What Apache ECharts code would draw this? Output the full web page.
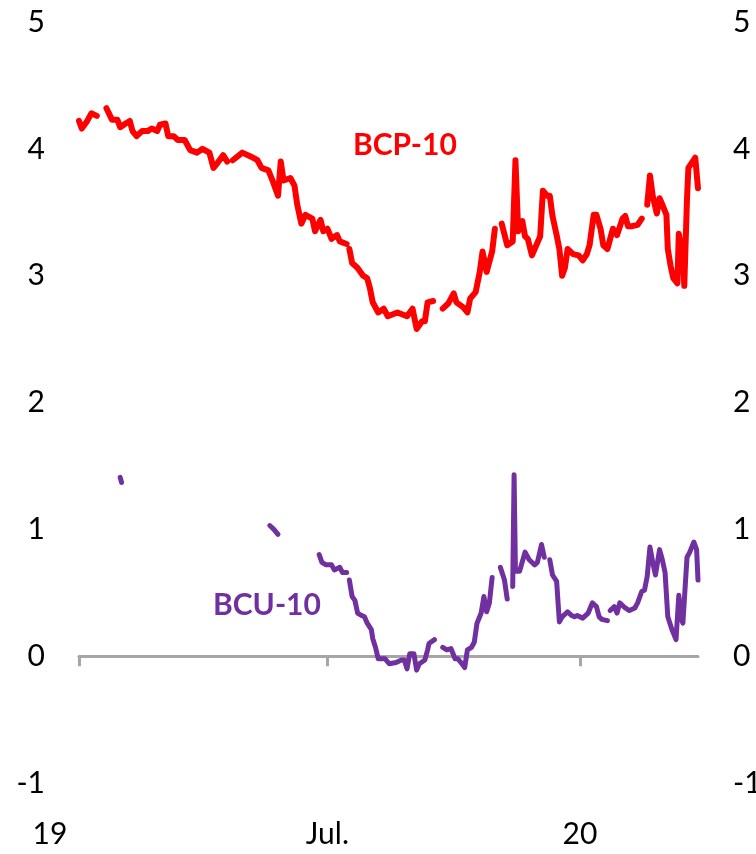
<!DOCTYPE html>
<html>
<head>
<meta charset="utf-8">
<script src="https://cdn.jsdelivr.net/npm/echarts@6/dist/echarts.min.js"></script>
<style>
html,body{margin:0;padding:0;background:#fff;}
#chart{width:756px;height:854px;}
</style>
</head>
<body>
<div id="chart"></div>
<script>
// ---- Data ----
const xMin = '2019-01-01';
const xMax = '2020-03-27';
const tickDates = ['2019-01-01', '2019-07-01', '2020-01-01'];
const tickLabels = ['19', 'Jul.', '20'];
const yTicks = [-1, 0, 1, 2, 3, 4, 5];

const bcpDates = [
 '2019-01-01','2019-01-03','2019-01-07','2019-01-10','2019-01-14','2019-01-17','2019-01-21','2019-01-25','2019-01-29','2019-01-31',
 '2019-02-04','2019-02-07','2019-02-09','2019-02-12','2019-02-16','2019-02-20','2019-02-23','2019-02-27',
 '2019-03-01','2019-03-05','2019-03-07','2019-03-11','2019-03-14','2019-03-19','2019-03-23','2019-03-28',
 '2019-04-01','2019-04-06','2019-04-09','2019-04-12','2019-04-16','2019-04-19','2019-04-21','2019-04-23','2019-04-30',
 '2019-05-06','2019-05-11','2019-05-14','2019-05-19','2019-05-22','2019-05-26','2019-05-28','2019-05-30',
 '2019-06-04','2019-06-07','2019-06-09','2019-06-12','2019-06-15','2019-06-20','2019-06-22','2019-06-26','2019-06-28',
 '2019-07-01','2019-07-04','2019-07-08','2019-07-10','2019-07-15','2019-07-16','2019-07-17','2019-07-19','2019-07-23','2019-07-27','2019-07-30',
 '2019-08-01','2019-08-03','2019-08-07','2019-08-11','2019-08-14','2019-08-21','2019-08-28',
 '2019-09-01','2019-09-04','2019-09-08','2019-09-10','2019-09-12','2019-09-16','2019-09-20','2019-09-23','2019-09-27',
 '2019-10-01','2019-10-03','2019-10-08','2019-10-11','2019-10-13','2019-10-17','2019-10-20','2019-10-22','2019-10-25','2019-10-29','2019-10-31',
 '2019-11-03','2019-11-05','2019-11-09','2019-11-13','2019-11-15','2019-11-17','2019-11-20','2019-11-22','2019-11-24','2019-11-27','2019-11-29',
 '2019-12-03','2019-12-05','2019-12-08','2019-12-10','2019-12-12','2019-12-15','2019-12-17','2019-12-19','2019-12-21','2019-12-23','2019-12-27','2019-12-31',
 '2020-01-03','2020-01-06','2020-01-08','2020-01-11','2020-01-13','2020-01-16','2020-01-18','2020-01-21','2020-01-23','2020-01-25','2020-01-28',
 '2020-02-01','2020-02-03','2020-02-05','2020-02-08','2020-02-12','2020-02-15','2020-02-17','2020-02-19','2020-02-21','2020-02-23','2020-02-26','2020-02-28',
 '2020-03-01','2020-03-04','2020-03-05','2020-03-07','2020-03-09','2020-03-12','2020-03-13','2020-03-16','2020-03-17','2020-03-19','2020-03-20','2020-03-25','2020-03-27'
];
const bcpValues = [
 4.22,4.16,4.22,4.28,4.26,null,4.32,4.23,4.23,4.17,
 4.20,4.22,4.14,4.10,4.14,4.14,4.16,4.14,
 4.19,4.20,4.10,4.10,4.07,4.07,3.99,3.97,
 4.00,3.97,3.85,3.89,3.95,3.90,null,3.91,3.97,
 3.94,3.91,3.85,3.83,3.75,3.63,3.90,3.75,
 3.77,3.71,3.56,3.41,3.48,3.45,3.35,3.44,3.35,
 3.37,3.29,3.32,3.27,3.25,null,3.21,3.10,3.06,3.00,2.98,
 2.90,2.79,2.71,2.74,2.68,2.71,2.68,
 2.74,2.58,2.64,2.64,2.79,2.80,null,2.74,2.78,
 2.86,2.79,2.75,2.71,2.82,2.87,3.03,3.19,3.03,3.19,3.37,
 null,3.41,3.24,3.27,3.91,3.35,3.43,3.31,3.29,3.16,3.21,
 3.31,3.67,3.63,3.63,3.47,3.32,3.21,3.00,3.06,3.21,3.17,3.16,
 3.12,3.17,3.24,3.48,3.48,3.37,3.24,3.21,3.29,3.37,3.32,
 3.45,3.47,3.39,3.39,3.40,3.45,null,3.56,3.79,3.63,3.49,3.61,
 3.56,3.48,3.21,3.08,2.98,2.94,3.33,3.16,2.92,3.61,3.85,3.93,3.69
];

const bcuDates = [
 '2019-01-31','2019-02-01','2019-02-02',
 '2019-05-20','2019-05-23','2019-05-26','2019-05-27',
 '2019-06-25','2019-06-27','2019-06-30',
 '2019-07-04','2019-07-06','2019-07-10','2019-07-12','2019-07-15','2019-07-16','2019-07-17','2019-07-19','2019-07-21','2019-07-23','2019-07-26','2019-07-28','2019-07-30',
 '2019-08-02','2019-08-03','2019-08-05','2019-08-07','2019-08-12','2019-08-15','2019-08-20','2019-08-24','2019-08-26','2019-08-28','2019-08-30',
 '2019-09-02','2019-09-04','2019-09-06','2019-09-10','2019-09-12','2019-09-13','2019-09-17','2019-09-20','2019-09-23','2019-09-26','2019-09-29',
 '2019-10-02','2019-10-04','2019-10-07','2019-10-09','2019-10-11','2019-10-14','2019-10-16','2019-10-18','2019-10-21','2019-10-23','2019-10-25','2019-10-27','2019-10-29','2019-10-31',
 '2019-11-04','2019-11-07','2019-11-09','2019-11-11','2019-11-13','2019-11-14','2019-11-15','2019-11-18','2019-11-22','2019-11-25','2019-11-29',
 '2019-12-01','2019-12-04','2019-12-06','2019-12-07','2019-12-10','2019-12-12','2019-12-15','2019-12-17','2019-12-19','2019-12-23','2019-12-26','2019-12-28','2019-12-30',
 '2020-01-03','2020-01-07','2020-01-10','2020-01-13','2020-01-15','2020-01-17','2020-01-21','2020-01-22','2020-01-23','2020-01-26','2020-01-28','2020-01-30',
 '2020-02-03','2020-02-06','2020-02-10','2020-02-12','2020-02-15','2020-02-17','2020-02-19','2020-02-21','2020-02-23','2020-02-25','2020-02-28',
 '2020-03-01','2020-03-03','2020-03-05','2020-03-08','2020-03-11','2020-03-13','2020-03-15','2020-03-16','2020-03-19','2020-03-21','2020-03-24','2020-03-26','2020-03-27'
];
const bcuValues = [
 1.41,1.37,null,
 1.03,1.00,0.96,null,
 0.80,0.74,0.72,
 0.72,0.68,0.70,0.66,0.66,null,0.60,0.47,0.44,0.34,0.32,0.31,0.26,
 0.21,0.14,0.07,-0.02,-0.02,-0.06,-0.05,-0.03,-0.03,-0.10,0.02,
 0.02,-0.11,-0.06,-0.03,0.05,0.10,0.13,null,0.07,0.05,0.06,
 -0.02,-0.02,-0.06,-0.09,0.05,0.07,0.11,0.26,0.34,0.47,0.35,0.42,0.62,null,
 0.70,0.60,0.45,null,0.55,1.43,0.67,0.67,0.82,0.76,0.72,
 0.74,0.88,0.78,null,0.76,0.64,0.59,0.27,0.31,0.35,0.32,0.31,0.32,
 0.30,0.34,0.42,0.39,0.31,0.29,0.28,null,0.36,0.39,0.34,0.42,
 0.38,0.36,0.38,0.42,0.51,0.52,0.63,0.86,0.74,0.64,0.84,
 0.76,0.66,0.31,0.21,0.13,0.48,0.29,0.26,0.78,0.82,0.90,0.84,0.60
];

const seriesNames = ['BCP-10', 'BCU-10'];
const seriesColors = ['#FF0000', '#7030A0'];

// ---- Build chart ----
function ts(s) { const p = s.split('-').map(Number); return new Date(p[0], p[1] - 1, p[2]).getTime(); }
const tickTs = tickDates.map(ts);
const bcpData = bcpDates.map((d, i) => [ts(d), bcpValues[i]]);
const bcuData = bcuDates.map((d, i) => [ts(d), bcuValues[i]]);

const FONT = 'Lato';
const chart = echarts.init(document.getElementById('chart'), null, { renderer: 'canvas' });

const yAxisCommon = {
  type: 'value', min: yTicks[0], max: yTicks[yTicks.length - 1], interval: 1,
  axisLine: { show: false }, axisTick: { show: false }, splitLine: { show: false }
};

chart.setOption({
  animation: false,
  backgroundColor: '#fff',
  grid: { left: 79, right: 58, top: 22, bottom: 71, containLabel: false, outerBoundsMode: 'none' },
  xAxis: [
    {
      type: 'value', min: ts(xMin), max: ts(xMax), position: 'bottom',
      axisLine: { show: false, onZero: false },
      axisTick: { show: false },
      splitLine: { show: false },
      axisLabel: {
        customValues: tickTs,
        showMinLabel: true, showMaxLabel: true,
        margin: 36,
        color: '#000', fontSize: 30, fontFamily: FONT,
        formatter: function (v) {
          const i = tickTs.indexOf(v);
          if (i < 0) return '';
          return i === 0 ? '{a|' + tickLabels[i] + '}' : tickLabels[i];
        },
        rich: { a: { padding: [0, 58, 0, 0], color: '#000', fontSize: 30, fontFamily: FONT } }
      }
    },
    {
      type: 'value', min: ts(xMin), max: ts(xMax), position: 'bottom',
      axisLine: { show: true, onZero: true, onZeroAxisIndex: 0, lineStyle: { color: '#A6A6A6', width: 3 } },
      axisTick: { show: true, customValues: tickTs, length: 10, lineStyle: { color: '#A6A6A6', width: 3 } },
      splitLine: { show: false },
      axisLabel: { show: false }
    }
  ],
  yAxis: [
    Object.assign({}, yAxisCommon, { position: 'left',
      axisLabel: { margin: 34, color: '#000', fontSize: 30, fontFamily: FONT } }),
    Object.assign({}, yAxisCommon, { position: 'right',
      axisLabel: { margin: 35, color: '#000', fontSize: 30, fontFamily: FONT } })
  ],
  series: [
    {
      name: seriesNames[0], type: 'line', xAxisIndex: 0, yAxisIndex: 0,
      data: bcpData, showSymbol: false, connectNulls: false,
      lineStyle: { color: seriesColors[0], width: 6, cap: 'round', join: 'round' },
      emphasis: { disabled: true }
    },
    {
      name: seriesNames[1], type: 'line', xAxisIndex: 0, yAxisIndex: 0,
      data: bcuData, showSymbol: false, connectNulls: false,
      lineStyle: { color: seriesColors[1], width: 5, cap: 'round', join: 'round' },
      emphasis: { disabled: true }
    }
  ],
  graphic: [
    { type: 'text', left: 353, top: 130,
      style: { text: seriesNames[0], fill: seriesColors[0], font: 'bold 30px Lato' } },
    { type: 'text', left: 213, top: 590,
      style: { text: seriesNames[1], fill: seriesColors[1], font: 'bold 30px Lato' } }
  ]
});
</script>
</body>
</html>
